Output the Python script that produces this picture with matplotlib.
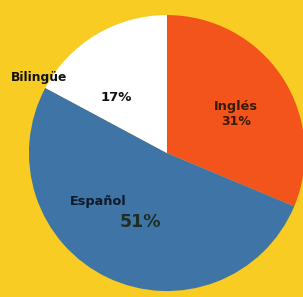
import matplotlib
matplotlib.use("Agg")
import matplotlib.pyplot as plt

categories = ["Inglés", "Español", "Bilingüe"]
values = [31, 51, 17]
pct_labels = ["31%", "51%", "17%"]
colors = ["#F2541B", "#3F74A6", "#FFFFFF"]
bg = "#F8CC22"

fig = plt.figure(figsize=(3.03, 2.97), dpi=100, facecolor=bg)
ax = fig.add_axes([0, 0, 1, 1])
ax.set_facecolor(bg)
ax.pie(values, colors=colors, startangle=90, counterclock=False,
       radius=1.0, center=(0, 0), wedgeprops=dict(linewidth=0))
ax.set_xlim(-1.21, 0.986)
ax.set_ylim(-1.043, 1.109)
ax.set_aspect("equal")
ax.axis("off")

fw = "bold"
ax.text(-0.925, 0.545, categories[2], ha="center", va="center", fontsize=8.8, fontweight=fw, color="#111111")
ax.text(-0.37, 0.405, pct_labels[2], ha="center", va="center", fontsize=9.5, fontweight=fw, color="#111111")
ax.text(0.50, 0.34, categories[0], ha="center", va="center", fontsize=9.3, fontweight=fw, color="#3a1a08")
ax.text(0.50, 0.228, pct_labels[0], ha="center", va="center", fontsize=9, fontweight=fw, color="#3a1a08")
ax.text(-0.50, -0.348, categories[1], ha="center", va="center", fontsize=9.3, fontweight=fw, color="#0e1a2a")
ax.text(-0.19, -0.50, pct_labels[1], ha="center", va="center", fontsize=12.5, fontweight=fw, color="#1f2e22")

fig.savefig("out.png", dpi=100, facecolor=bg)
